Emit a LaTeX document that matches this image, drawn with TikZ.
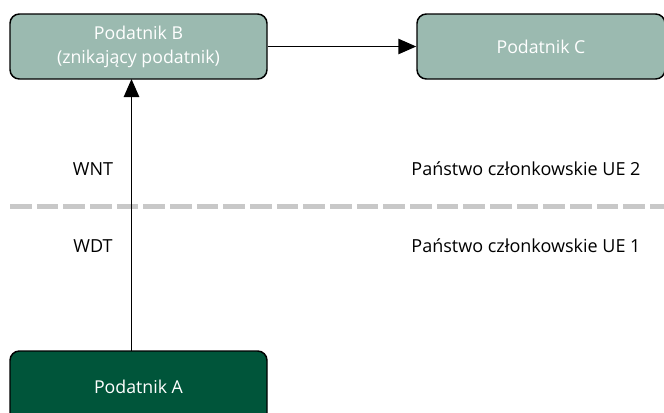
\documentclass[tikz,border=0pt]{standalone}
\usepackage{fontspec}
\setmainfont{Open Sans}
\usetikzlibrary{arrows.meta}
\definecolor{paleteal}{HTML}{9BBAB0}
\definecolor{deepgreen}{HTML}{00553A}
\definecolor{divider}{HTML}{C8C8C8}
\begin{document}
\begin{tikzpicture}[x=0.75pt,y=-0.75pt,
  party/.style={draw=black, line width=1.1pt, rounded corners=7pt, font=\fontsize{13.3pt}{18pt}\selectfont, text=white, align=center, inner sep=0pt},
  label/.style={font=\fontsize{13.5pt}{16pt}\selectfont, text=black},
  flow/.style={-{Triangle[length=13.5pt,width=11.5pt]}, line width=1.2pt}]
\useasboundingbox (0,0) rectangle (664,412);
\begin{scope}
\clip (0,0) rectangle (664,412);
% country border
\draw[divider, line width=3.75pt, dash pattern=on 16.25pt off 3.75pt] (10,206) -- (670,206);
% taxpayers
\node[party, fill=paleteal, minimum width=192.75pt, minimum height=48.75pt] (B) at (138.5,46.5) {Podatnik B\\(znikający podatnik)};
\node[party, fill=paleteal, minimum width=186pt, minimum height=48.75pt] (C) at (541,46.5) {Podatnik C};
\node[party, fill=deepgreen, minimum width=192.75pt, minimum height=54pt] (A) at (138.5,387) {Podatnik A};
\end{scope}
% supplies
\coordinate (Atop) at (131.5,351);
\coordinate (Bbot) at (131.5,79);
\draw[flow] (Atop) -- (Bbot);
\draw[flow] (B.east) -- (C.west);
% labels
\node[label] (wnt) at (93,169) {WNT};
\node[label] (wdt) at (93,246) {WDT};
\node[label] (ue2) at (526,169) {Państwo członkowskie UE 2};
\node[label] (ue1) at (526,246) {Państwo członkowskie UE 1};
\end{tikzpicture}
\end{document}
